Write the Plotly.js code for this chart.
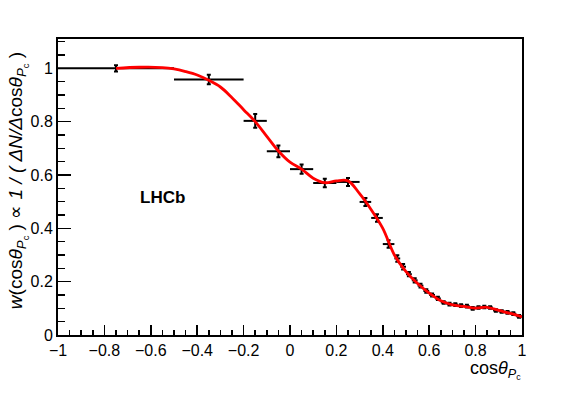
<!DOCTYPE html>
<html>
<head>
<meta charset="utf-8">
<script src="https://cdn.plot.ly/plotly-3.0.1.min.js"></script>
<style>
  html, body { margin: 0; padding: 0; background: #fff; }
  #chart { width: 581px; height: 395px; }
</style>
</head>
<body>
<div id="chart"></div>
<script>
// measured weights per cos(theta_Pc) bin
const binCenter = [-0.75, -0.35, -0.15, -0.05, 0.05, 0.15, 0.25, 0.325, 0.375, 0.425,
  0.4625, 0.4875, 0.5125, 0.5375, 0.5625, 0.5875, 0.6125, 0.6375, 0.6625, 0.6875,
  0.7125, 0.7375, 0.7625, 0.7875, 0.8125, 0.8375, 0.8625, 0.8875, 0.9125, 0.9375,
  0.9625, 0.9875];
const binHalf = [0.25, 0.15, 0.05, 0.05, 0.05, 0.05, 0.05, 0.025, 0.025, 0.025,
  0.0125, 0.0125, 0.0125, 0.0125, 0.0125, 0.0125, 0.0125, 0.0125, 0.0125, 0.0125,
  0.0125, 0.0125, 0.0125, 0.0125, 0.0125, 0.0125, 0.0125, 0.0125, 0.0125, 0.0125,
  0.0125, 0.0125];
const weight = [1.0, 0.958, 0.803, 0.689, 0.622, 0.570, 0.574, 0.499, 0.439, 0.341,
  0.287, 0.256, 0.228, 0.205, 0.185, 0.165, 0.150, 0.137, 0.122, 0.116,
  0.114, 0.110, 0.108, 0.100, 0.103, 0.105, 0.103, 0.092, 0.088, 0.085,
  0.080, 0.070];
const weightErr = [0.012, 0.018, 0.026, 0.022, 0.017, 0.016, 0.015, 0.015, 0.014, 0.014,
  0.012, 0.010, 0.008, 0.008, 0.007, 0.007, 0.006, 0.006, 0.005, 0.005,
  0.005, 0.005, 0.005, 0.005, 0.005, 0.005, 0.005, 0.005, 0.005, 0.005,
  0.005, 0.005];

// smooth fit curve
const fitX = [-0.75, -0.65, -0.55, -0.5, -0.45, -0.4, -0.35, -0.3, -0.25, -0.2,
  -0.15, -0.1, -0.05, 0, 0.05, 0.1, 0.15, 0.2, 0.25, 0.3,
  0.35, 0.4, 0.45, 0.5, 0.55, 0.6, 0.65, 0.7, 0.75, 0.8,
  0.85, 0.9, 0.95, 1.0];
const fitY = [1.0, 1.004, 1.003, 0.998, 0.988, 0.975, 0.955, 0.93, 0.89, 0.845,
  0.80, 0.745, 0.69, 0.648, 0.622, 0.588, 0.571, 0.578, 0.578, 0.53,
  0.47, 0.40, 0.30, 0.238, 0.193, 0.157, 0.128, 0.113, 0.107, 0.101,
  0.104, 0.092, 0.081, 0.068];

const FONT = 'Liberation Sans, Arial, Helvetica, sans-serif';

const traces = [
  {
    x: binCenter, y: weight, type: 'scatter', mode: 'markers',
    marker: { color: '#000', size: 1 },
    error_x: { type: 'data', array: binHalf, color: '#000', thickness: 2, width: 0 },
    error_y: { type: 'data', array: weightErr, color: '#000', thickness: 2, width: 2 },
    hoverinfo: 'skip', showlegend: false
  },
  {
    x: fitX, y: fitY, type: 'scatter', mode: 'lines',
    line: { color: '#ff0000', width: 2.8, shape: 'spline', smoothing: 1 },
    hoverinfo: 'skip', showlegend: false
  }
];

const axisCommon = {
  showgrid: false, zeroline: false,
  showline: true, mirror: true, linecolor: '#000', linewidth: 2,
  ticks: 'inside', tickcolor: '#000', tickwidth: 1.5,
  tickfont: { family: FONT, size: 16, color: '#000' }
};

const layout = {
  width: 581, height: 395,
  margin: { l: 58, r: 59, t: 39, b: 60 },
  paper_bgcolor: '#fff', plot_bgcolor: '#fff',
  xaxis: {
    ...axisCommon,
    range: [-1, 1], tickmode: 'linear', tick0: -1, dtick: 0.2, ticklen: 10,
    minor: { dtick: 0.05, ticklen: 5, ticks: 'inside', tickcolor: '#000', tickwidth: 1.5 }
  },
  yaxis: {
    ...axisCommon,
    range: [0, 1.11], tickmode: 'linear', tick0: 0, dtick: 0.2, ticklen: 13,
    minor: { dtick: 0.05, ticklen: 7, ticks: 'inside', tickcolor: '#000', tickwidth: 1.5 }
  },
  annotations: [
    {
      xref: 'paper', yref: 'paper', x: 1.002, y: -0.118, xanchor: 'right', yanchor: 'middle',
      showarrow: false, font: { family: FONT, size: 18, color: '#000' },
      text: 'cos<i>θ</i><sub><i>P</i><sub>c</sub></sub>'
    },
    {
      xref: 'paper', yref: 'paper', x: -0.086, y: 0.52, xanchor: 'center', yanchor: 'middle',
      textangle: -90, showarrow: false, font: { family: FONT, size: 19, color: '#000' },
      text: '<i>w</i>(cos<i>θ</i><sub><i>P</i><sub>c</sub></sub> ) ∝ <i>1 / ( ΔN/Δ</i>cos<i>θ</i><sub><i>P</i><sub>c</sub></sub> )'
    },
    {
      xref: 'x', yref: 'y', x: -0.55, y: 0.517, xanchor: 'center', yanchor: 'middle',
      showarrow: false, font: { family: FONT, size: 17, color: '#000', weight: 'bold' },
      text: '<b>LHCb</b>'
    }
  ]
};

Plotly.newPlot('chart', traces, layout, { staticPlot: true, displayModeBar: false });
</script>
</body>
</html>
